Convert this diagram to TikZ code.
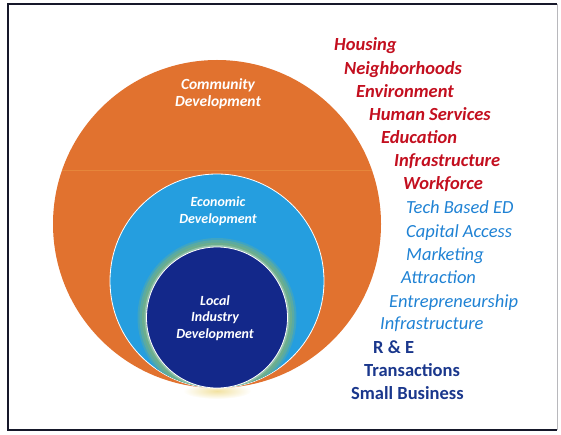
\documentclass[tikz,border=0pt]{standalone}
\usepackage{fontspec}
\setmainfont{Carlito}
\usetikzlibrary{positioning}
\definecolor{frameInk}   {HTML}{16182A}
\definecolor{frameHair}  {HTML}{B8B8BC}
\definecolor{cdFill}     {HTML}{E1722F}
\definecolor{cdSeam}     {HTML}{EDA04A}
\definecolor{edFill}     {HTML}{259EDF}
\definecolor{ringGlow}   {HTML}{6CAE8E}
\definecolor{lidFill}    {HTML}{13288A}
\definecolor{baseGlow}   {HTML}{F2E2A2}
\definecolor{cdText}     {HTML}{C30F1F}
\definecolor{edText}     {HTML}{1F82D4}
\definecolor{lidText}    {HTML}{1A378C}

\begin{document}
\begin{tikzpicture}[x=1pt, y=-1pt,
  every node/.style ={inner sep=0pt},
  ringlbl/.style    ={text=white, align=center, font=\fontsize{14}{16.5}\selectfont\bfseries\itshape},
  cditem/.style     ={anchor=base west, text=cdText,  font=\fontsize{18.5}{20}\selectfont\bfseries\itshape},
  editem/.style     ={anchor=base west, text=edText,  font=\fontsize{18.5}{20}\selectfont\itshape},
  liditem/.style    ={anchor=base west, text=lidText, font=\fontsize{18.5}{20}\selectfont\bfseries},
]

\useasboundingbox (0,0) rectangle (561,435);

% frame
\draw[frameHair, line width=0.8pt] (557,4) -- (557,430);
\draw[frameInk, line width=1.8pt] (557,4) -- (8,4) -- (8,430) -- (557,430);

% the circles, all touching at the bottom
\def\cx{217}\def\yTouch{388}
\shade[inner color=baseGlow, outer color=white] (\cx,\yTouch+3) ellipse (34 and 8);

\fill[cdFill] (\cx,\yTouch-164) circle[radius=164];
\begin{scope}
  \clip (\cx,\yTouch-164) circle[radius=164];
  \draw[cdSeam, line width=0.5pt, opacity=0.45] (40,170) -- (400,170);
\end{scope}

\filldraw[fill=edFill, draw=white, line width=0.8pt] (\cx,\yTouch-107) circle[radius=107];

% soft green glow round the inner circle, kept inside the blue one
\begin{scope}
  \clip (\cx,\yTouch-107) circle[radius=106.6];
  \fill[ringGlow!35!edFill] (\cx,\yTouch-70.5) circle[radius=79.5];
  \fill[ringGlow!75!edFill] (\cx,\yTouch-70.5) circle[radius=77.5];
  \fill[ringGlow]           (\cx,\yTouch-70.5) circle[radius=75];
  \fill[ringGlow!75!white]  (\cx,\yTouch-70.5) circle[radius=72.5];
\end{scope}
\filldraw[fill=lidFill, draw=white, line width=0.8pt] (\cx,\yTouch-70.5) circle[radius=70.5];

\node[ringlbl, font=\fontsize{15.5}{17}\selectfont\bfseries\itshape] (cdLbl) at (218,94) {Community\\Development};
\node[ringlbl] (edLbl)  at (218,211) {Economic\\Development};
\node[ringlbl] (lidLbl) at (215,318) {Local\\Industry\\Development};

% community development items
\node[cditem] (cdA) at (334,50.5)  {Housing};
\node[cditem] (cdB) at (344,74.5)  {Neighborhoods};
\node[cditem] (cdC) at (356,97.5)  {Environment};
\node[cditem] (cdD) at (369,120.5) {Human Services};
\node[cditem] (cdE) at (381,143.5) {Education};
\node[cditem] (cdF) at (394,167)   {Infrastructure};
\node[cditem] (cdG) at (403,189.5) {Workforce};

% economic development items
\node[editem] (edA) at (406,214)   {Tech Based ED};
\node[editem] (edB) at (406,237.5) {Capital Access};
\node[editem] (edC) at (406,260.5) {Marketing};
\node[editem] (edD) at (401,283.5) {Attraction};
\node[editem] (edE) at (389,307)   {Entrepreneurship};
\node[editem] (edF) at (380,329.5) {Infrastructure};

% local industry items
\node[liditem] (lidA) at (373,353) {R \& E};
\node[liditem] (lidB) at (364,376) {Transactions};
\node[liditem] (lidC) at (351,399) {Small Business};

\end{tikzpicture}
\end{document}
